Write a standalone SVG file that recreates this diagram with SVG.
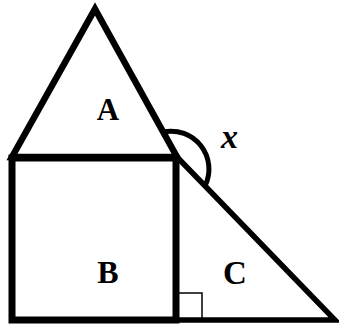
<svg xmlns="http://www.w3.org/2000/svg" width="339" height="326" viewBox="0 0 339 326">
<style>
.s{fill:none;stroke:#000;stroke-linejoin:miter}
.t{font-family:"Liberation Serif","Times New Roman",serif;font-weight:bold;fill:#000}
</style>
<rect width="339" height="326" fill="#fff"/>
<g id="triC">
<path class="s" d="M177 157 L335 320 L176 320" stroke-width="5.5"/>
<rect class="s" x="178" y="293" width="24" height="27" stroke-width="1.5"/>
<text class="t" x="235" y="284" font-size="33" text-anchor="middle">C</text>
</g>
<g id="squareB">
<rect class="s" x="12" y="158" width="164" height="162" stroke-width="7"/>
<text class="t" x="108" y="283" font-size="32" text-anchor="middle">B</text>
</g>
<g id="triA">
<path class="s" d="M95 9 L177 157 L12 157 Z" stroke-width="6.5"/>
<text class="t" x="108" y="120" font-size="31" text-anchor="middle">A</text>
</g>
<g id="angleX">
<path class="s" d="M163 132 A38 38 0 0 1 205 186" stroke-width="5"/>
<text class="t" x="221" y="148" font-size="34" font-style="italic">x</text>
</g>
</svg>
